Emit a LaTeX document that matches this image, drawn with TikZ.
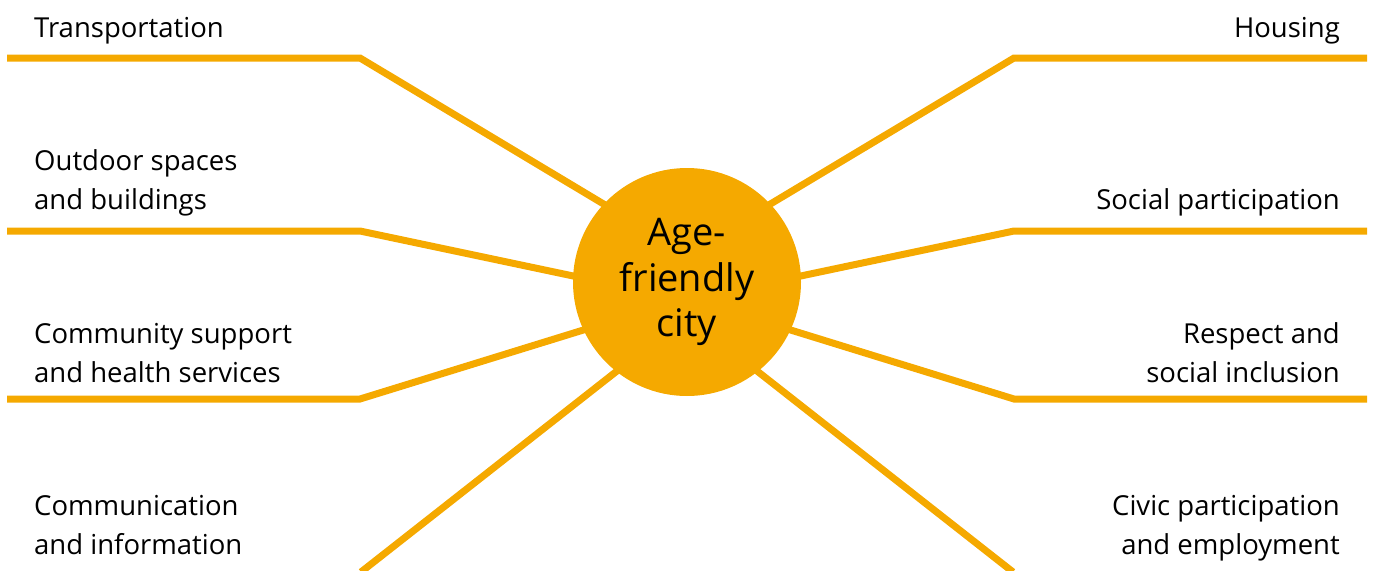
\documentclass[tikz,border=0pt]{standalone}
\usepackage{fontspec}
\setmainfont{Open Sans}
\usetikzlibrary{backgrounds}
\definecolor{hubgold}{HTML}{F5A900}
\tikzset{
  spoke/.style={draw=hubgold, line width=7pt},
  label/.style={inner sep=0pt, font=\fontsize{27.5}{38.5}\selectfont, text=black},
  leftlabel/.style={label, anchor=base west, align=left},
  rightlabel/.style={label, anchor=base east, align=right},
  hub/.style={circle, fill=hubgold, minimum size=228pt, inner sep=0pt,
    align=center, font=\fontsize{38}{45.5}\selectfont}
}
\begin{document}
\begin{tikzpicture}[x=1pt, y=-1pt]
  \useasboundingbox (0,0) rectangle (1375,570);

  % central circle
  \node[hub] (hub) at (687,282) {Age-\\friendly\\city};

  % spoke end points: outer end, bend, point inside the circle
  \coordinate (l1a) at (7,58);    \coordinate (l1b) at (360,58);   \coordinate (l1c) at (687,254);
  \coordinate (l2a) at (7,231);   \coordinate (l2b) at (360,231);  \coordinate (l2c) at (687,300);
  \coordinate (l3a) at (7,399);   \coordinate (l3b) at (360,399);  \coordinate (l3c) at (687,298);
  \coordinate (l4a) at (361,572); \coordinate (l4c) at (687,316);
  \coordinate (r1a) at (1367,58);  \coordinate (r1b) at (1014,58);  \coordinate (r1c) at (687,254);
  \coordinate (r2a) at (1367,231); \coordinate (r2b) at (1014,231); \coordinate (r2c) at (687,300);
  \coordinate (r3a) at (1367,399); \coordinate (r3b) at (1014,399); \coordinate (r3c) at (687,298);
  \coordinate (r4a) at (1013,572); \coordinate (r4c) at (687,316);

  \begin{pgfonlayer}{background}
    \draw[spoke] (l1a) -- (l1b) -- (l1c);
    \draw[spoke] (l2a) -- (l2b) -- (l2c);
    \draw[spoke] (l3a) -- (l3b) -- (l3c);
    \draw[spoke] (l4a) -- (l4c);
    \draw[spoke] (r1a) -- (r1b) -- (r1c);
    \draw[spoke] (r2a) -- (r2b) -- (r2c);
    \draw[spoke] (r3a) -- (r3b) -- (r3c);
    \draw[spoke] (r4a) -- (r4c);
  \end{pgfonlayer}

  % domain labels (anchored at the baseline of the last line)
  \node[leftlabel] (t1) at (34,37) {Transportation};
  \node[leftlabel] (t2) at (34,209) {Outdoor spaces\\and buildings};
  \node[leftlabel] (t3) at (34,382) {Community support\\and health services};
  \node[leftlabel] (t4) at (34,554) {Communication\\and information};
  \node[rightlabel] (u1) at (1340,37) {Housing};
  \node[rightlabel] (u2) at (1340,209) {Social participation};
  \node[rightlabel] (u3) at (1340,382) {Respect and\\social inclusion};
  \node[rightlabel] (u4) at (1340,554) {Civic participation\\and employment};
\end{tikzpicture}
\end{document}
